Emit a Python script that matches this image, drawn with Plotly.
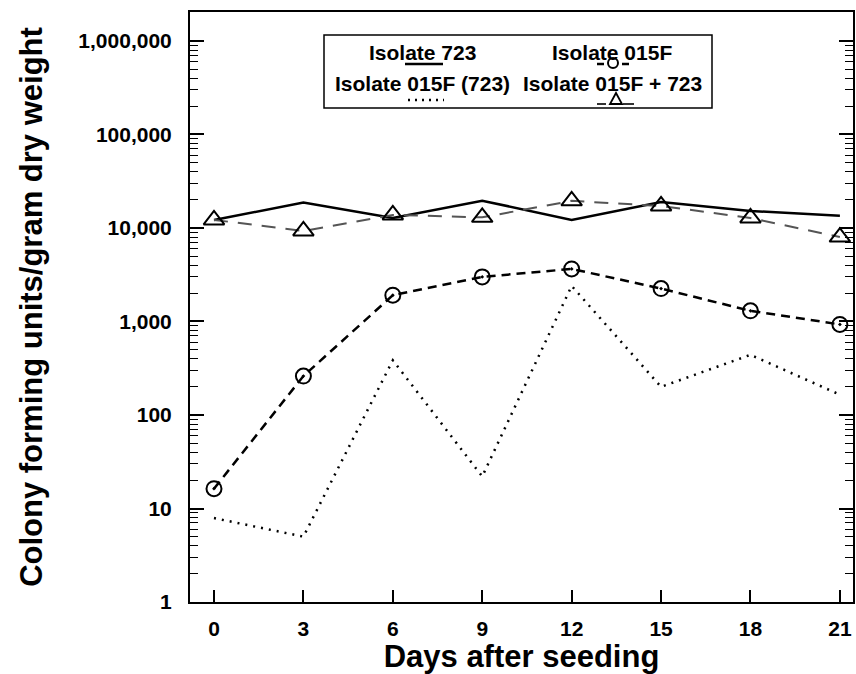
import plotly.graph_objects as go

# ---------------- data ----------------
days = [0, 3, 6, 9, 12, 15, 18, 21]
isolate_723 = [12200, 18700, 12800, 19600, 12200, 19000, 15200, 13500]
isolate_015F = [16.3, 261, 1910, 3000, 3650, 2250, 1300, 930]
isolate_015F_723 = [7.9, 5.0, 385, 22, 2400, 200, 440, 165]
isolate_015F_plus_723 = [12200, 9300, 13800, 13000, 19500, 17200, 12800, 8000]

x_tickvals = [0, 3, 6, 9, 12, 15, 18, 21]
y_tickvals = [1, 10, 100, 1000, 10000, 100000, 1000000]
y_ticktext = ["1", "10", "100", "1,000", "10,000", "100,000", "1,000,000"]
y_minorvals = [k * 10 ** d for d in range(0, 7) for k in range(2, 10)]

legend_labels = ["Isolate 723", "Isolate 015F", "Isolate 015F (723)", "Isolate 015F + 723"]

# ---------------- layout constants ----------------
W, H = 856, 674
L, R, T, B = 190, 3, 12, 72
PW, PH = W - L - R, H - T - B
FONT = "Liberation Sans, Arial, Helvetica, sans-serif"


def px(xp):
    return (xp - L) / PW


def py(yp):
    return (H - B - yp) / PH


fig = go.Figure()

fig.add_trace(go.Scatter(x=days, y=isolate_723, mode="lines",
                         line=dict(color="black", width=2.5), name=legend_labels[0]))
fig.add_trace(go.Scatter(x=days, y=isolate_015F_plus_723, mode="lines+markers",
                         line=dict(color="#555555", width=2, dash="14px,10px"),
                         marker=dict(symbol="triangle-up-open", size=18,
                                     color="black", line=dict(width=2, color="black")),
                         name=legend_labels[3]))
fig.add_trace(go.Scatter(x=days, y=isolate_015F, mode="lines+markers",
                         line=dict(color="black", width=2.5, dash="9px,6px"),
                         marker=dict(symbol="circle-open-dot", size=15,
                                     color="black", line=dict(width=2, color="black")),
                         name=legend_labels[1]))
fig.add_trace(go.Scatter(x=days, y=isolate_015F_723, mode="lines",
                         line=dict(color="black", width=2.5, dash="2px,6px"),
                         name=legend_labels[2]))

# ---------------- custom legend box ----------------
shapes = []
annotations = []
shapes.append(dict(type="rect", xref="paper", yref="paper",
                   x0=px(324), x1=px(712), y0=py(108), y1=py(35),
                   line=dict(color="black", width=1.5), fillcolor="white", layer="above"))

text_pos = [(422, 52), (612, 52), (422, 84), (612, 84)]
for lab, (xx, yy) in zip(legend_labels, text_pos):
    annotations.append(dict(text=lab, x=px(xx), y=py(yy), xref="paper", yref="paper",
                            showarrow=False, xanchor="center", yanchor="middle",
                            font=dict(family=FONT, size=21, color="black", weight="bold")))

# solid sample
shapes.append(dict(type="line", xref="paper", yref="paper", x0=px(405), x1=px(443),
                   y0=py(64), y1=py(64), line=dict(color="black", width=2.5), layer="above"))
# dashed + circle sample
shapes.append(dict(type="line", xref="paper", yref="paper", x0=px(597), x1=px(604),
                   y0=py(64), y1=py(64), line=dict(color="black", width=2.5), layer="above"))
shapes.append(dict(type="line", xref="paper", yref="paper", x0=px(622), x1=px(629),
                   y0=py(64), y1=py(64), line=dict(color="black", width=2.5), layer="above"))
shapes.append(dict(type="circle", xref="paper", yref="paper", x0=px(608), x1=px(618),
                   y0=py(68), y1=py(58), line=dict(color="black", width=2), layer="above"))
# dotted sample
shapes.append(dict(type="line", xref="paper", yref="paper", x0=px(408), x1=px(444),
                   y0=py(100), y1=py(100), line=dict(color="black", width=2.5, dash="2px,5px"),
                   layer="above"))
# long dash + triangle sample
shapes.append(dict(type="line", xref="paper", yref="paper", x0=px(597), x1=px(606),
                   y0=py(104), y1=py(104), line=dict(color="#333333", width=2), layer="above"))
shapes.append(dict(type="line", xref="paper", yref="paper", x0=px(623), x1=px(634),
                   y0=py(104), y1=py(104), line=dict(color="#333333", width=2), layer="above"))
tri = "M {} {} L {} {} L {} {} Z".format(px(610), py(104), px(622), py(104), px(616), py(93))
shapes.append(dict(type="path", xref="paper", yref="paper", path=tri,
                   line=dict(color="black", width=1.8), layer="above"))

fig.update_layout(
    width=W, height=H,
    margin=dict(l=L, r=R, t=T, b=B, autoexpand=False),
    paper_bgcolor="white", plot_bgcolor="white",
    showlegend=False,
    font=dict(family=FONT, color="black"),
    shapes=shapes, annotations=annotations,
)

fig.update_xaxes(
    range=[-0.805, 21.44], tickmode="array", tickvals=x_tickvals,
    ticks="inside", ticklen=12, tickwidth=1.5, tickcolor="black",
    showline=True, linecolor="black", linewidth=2, mirror=True,
    showgrid=False, zeroline=False, ticklabelstandoff=7,
    tickfont=dict(family=FONT, size=21, color="black", weight="bold"),
    title=dict(text="Days after seeding", standoff=13,
               font=dict(family=FONT, size=31, color="black", weight="bold")),
)

fig.update_yaxes(
    type="log", range=[0, 6.31], tickmode="array", tickvals=y_tickvals, ticktext=y_ticktext,
    ticks="inside", ticklen=14, tickwidth=1.5, tickcolor="black",
    minor=dict(tickmode="array", tickvals=y_minorvals, ticks="inside", ticklen=8,
               tickwidth=1.2, tickcolor="black", showgrid=False),
    showline=True, linecolor="black", linewidth=2, mirror="ticks",
    showgrid=False, zeroline=False, ticklabelstandoff=12,
    tickfont=dict(family=FONT, size=21, color="black", weight="bold"),
    title=dict(text="Colony forming units/gram dry weight", standoff=27,
               font=dict(family=FONT, size=31, color="black", weight="bold")),
)

fig.write_html("out.html", config={"displayModeBar": False},
               post_script="document.body.style.margin='0';")
